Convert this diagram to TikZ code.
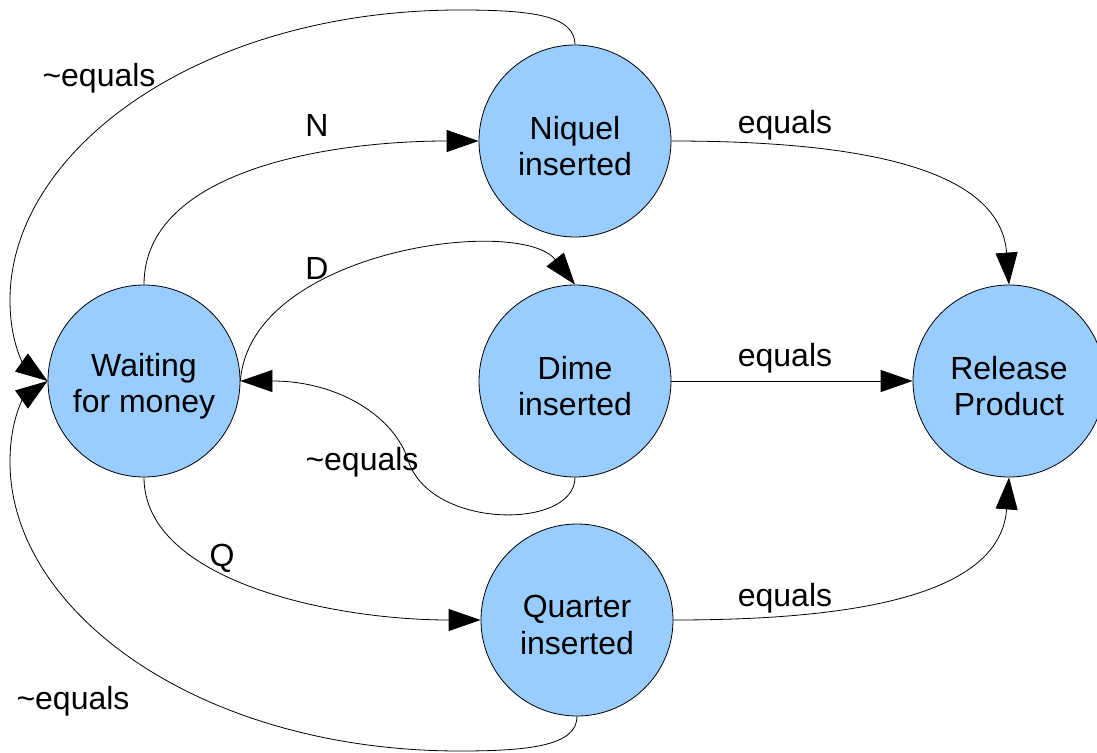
\documentclass[tikz,border=0pt]{standalone}
\usepackage{fontspec}
\setmainfont{Liberation Sans}
\usetikzlibrary{arrows.meta}
\definecolor{stfill}{HTML}{99CCFF}
\begin{document}
\begin{tikzpicture}[x=1pt,y=-1pt,
  txt/.style={font=\fontsize{32}{36.5}\selectfont,inner sep=0pt,align=center},
  state/.style={circle,draw=black,line width=0.8pt,fill=stfill,minimum size=192pt,inner sep=0pt,
    label={[txt,yshift=-5pt]center:#1}},
  lbl/.style={txt,yshift=-3pt},
  conn/.style={line width=0.8pt,-{Triangle[length=32pt,width=22pt]}}]
\useasboundingbox (0,0) rectangle (1097,752);
\node[state={Waiting\\for money}] (W) at (144,381) {};
\node[state={Niquel\\inserted}] (N) at (575,141) {};
\node[state={Dime\\inserted}] (D) at (575,381) {};
\node[state={Quarter\\inserted}] (Q) at (577,620) {};
\node[state={Release\\Product}] (R) at (1009,381) {};

\draw[conn] (W.north) .. controls (144,170) and (330,141) .. (N.west);
\draw[conn] (N.north) .. controls (575,15) and (530,10) .. (460,10)
  .. controls (200,10) and (10,150) .. (10,300)
  .. controls (10,345) and (25,365) .. (W.west);
\draw[conn] (W.east) .. controls (250,250) and (520,215) .. (D.north);
\draw[conn] (D.south) .. controls (575,530) and (430,530) .. (408,460)
  .. controls (395,418) and (340,381) .. (W.east);
\draw[conn] (W.south) .. controls (144,580) and (330,620) .. (Q.west);
\draw[conn] (Q.south) .. controls (577,745) and (532,751) .. (460,751)
  .. controls (200,751) and (10,612) .. (10,462)
  .. controls (10,417) and (25,397) .. (W.west);
\draw[conn] (N.east) .. controls (850,141) and (1000,165) .. (R.north);
\draw[conn] (D.east) -- (R.west);
\draw[conn] (Q.east) .. controls (850,620) and (1000,597) .. (R.south);

\node[lbl] (l1) at (99,75) {\textasciitilde equals};
\node[lbl] (l2) at (317,122) {N};
\node[lbl] (l3) at (317,265) {D};
\node[lbl] (l4) at (362,459) {\textasciitilde equals};
\node[lbl] (l5) at (222,555) {Q};
\node[lbl] (l6) at (73,698) {\textasciitilde equals};
\node[lbl] (l7) at (785,122) {equals};
\node[lbl] (l8) at (785,355) {equals};
\node[lbl] (l9) at (785,595) {equals};
\end{tikzpicture}
\end{document}
